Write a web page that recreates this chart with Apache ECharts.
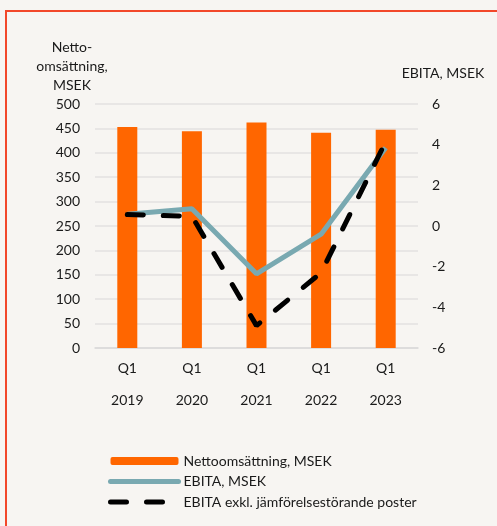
<!DOCTYPE html>
<html>
<head>
<meta charset="utf-8">
<script src="https://cdn.jsdelivr.net/npm/echarts@6/dist/echarts.min.js"></script>
<style>
  html, body { margin: 0; padding: 0; background: #f7f5f2; }
  #main { width: 497px; height: 526px; }
</style>
</head>
<body>
<div id="main"></div>
<script>
// data
const quarters = ["Q1", "Q1", "Q1", "Q1", "Q1"]
const years = ["2019", "2020", "2021", "2022", "2023"]
const netSales = [453, 444, 462, 441, 447]
const ebita = [0.58, 0.85, -2.35, -0.4, 3.85]
const ebitaExcl = [0.56, 0.48, -4.9, -2.3, 4.15]

const categories = years.map((y, i) => quarters[i] + "\n" + y)
const font = "Lato"
const txt = '#1a1a1a'

var myChart = echarts.init(document.getElementById('main'))

var option = {
    backgroundColor: '#f7f5f2',
    textStyle: { fontFamily: font },
    animation: false,
    graphic: [{
        type: 'rect',
        shape: { x: 6, y: 11, width: 600, height: 600 },
        style: { fill: 'none', stroke: '#f2482a', lineWidth: 2 },
        silent: true
    }],
    grid: { left: 95, right: 79, top: 104, bottom: 178 },
    legend: {
        orient: 'vertical',
        left: 103,
        top: 449,
        itemWidth: 68,
        itemHeight: 8,
        itemGap: 6.5,
        textStyle: { fontSize: 14, color: txt, fontFamily: font },
        data: [
            { name: 'Nettoomsättning, MSEK' },
            {
                name: 'EBITA, MSEK',
                itemStyle: { opacity: 0 },
                lineStyle: { width: 5, cap: 'round' }
            },
            {
                name: 'EBITA exkl. jämförelsestörande poster',
                itemStyle: { opacity: 0 },
                lineStyle: { width: 5, type: [16, 20], cap: 'round' }
            }
        ]
    },
    xAxis: {
        type: 'category',
        data: categories,
        axisLine: { lineStyle: { color: '#d9d9d9', width: 1.5 } },
        axisTick: { length: 62, lineStyle: { color: '#d9d9d9', width: 1.5 } },
        axisLabel: { margin: 4, lineHeight: 32, fontSize: 14, color: txt }
    },
    yAxis: [
        {
            type: 'value',
            min: 0, max: 500, interval: 50,
            name: 'Netto-\nomsättning,\nMSEK',
            nameGap: 9,
            nameTextStyle: { fontSize: 14, color: txt, align: 'center', lineHeight: 19, padding: [0, 46, 0, 0] },
            axisLine: { show: false },
            axisTick: { show: false },
            axisLabel: { margin: 15, fontSize: 14, color: txt },
            splitLine: { lineStyle: { color: '#e3e0e0', width: 1.5 } }
        },
        {
            type: 'value',
            min: -6, max: 6, interval: 2,
            name: 'EBITA, MSEK',
            nameGap: 24,
            nameTextStyle: { fontSize: 14, color: txt, align: 'center', padding: [0, 0, 0, 50] },
            axisLine: { show: false },
            axisTick: { show: false },
            axisLabel: { margin: 14, fontSize: 14, color: txt, align: 'left' },
            splitLine: { show: false }
        }
    ],
    series: [
        {
            name: 'Nettoomsättning, MSEK',
            type: 'bar',
            data: netSales,
            barWidth: 20,
            itemStyle: { color: '#ff6600' }
        },
        {
            name: 'EBITA, MSEK',
            type: 'line',
            yAxisIndex: 1,
            data: ebita,
            symbol: 'none',
            lineStyle: { color: '#79a9b1', width: 5 },
            itemStyle: { color: '#79a9b1' }
        },
        {
            name: 'EBITA exkl. jämförelsestörande poster',
            type: 'line',
            yAxisIndex: 1,
            data: ebitaExcl,
            symbol: 'none',
            lineStyle: { color: '#000', width: 5, type: [16, 20], cap: 'round' },
            itemStyle: { color: '#000' }
        }
    ]
}

myChart.setOption(option)
</script>
</body>
</html>
